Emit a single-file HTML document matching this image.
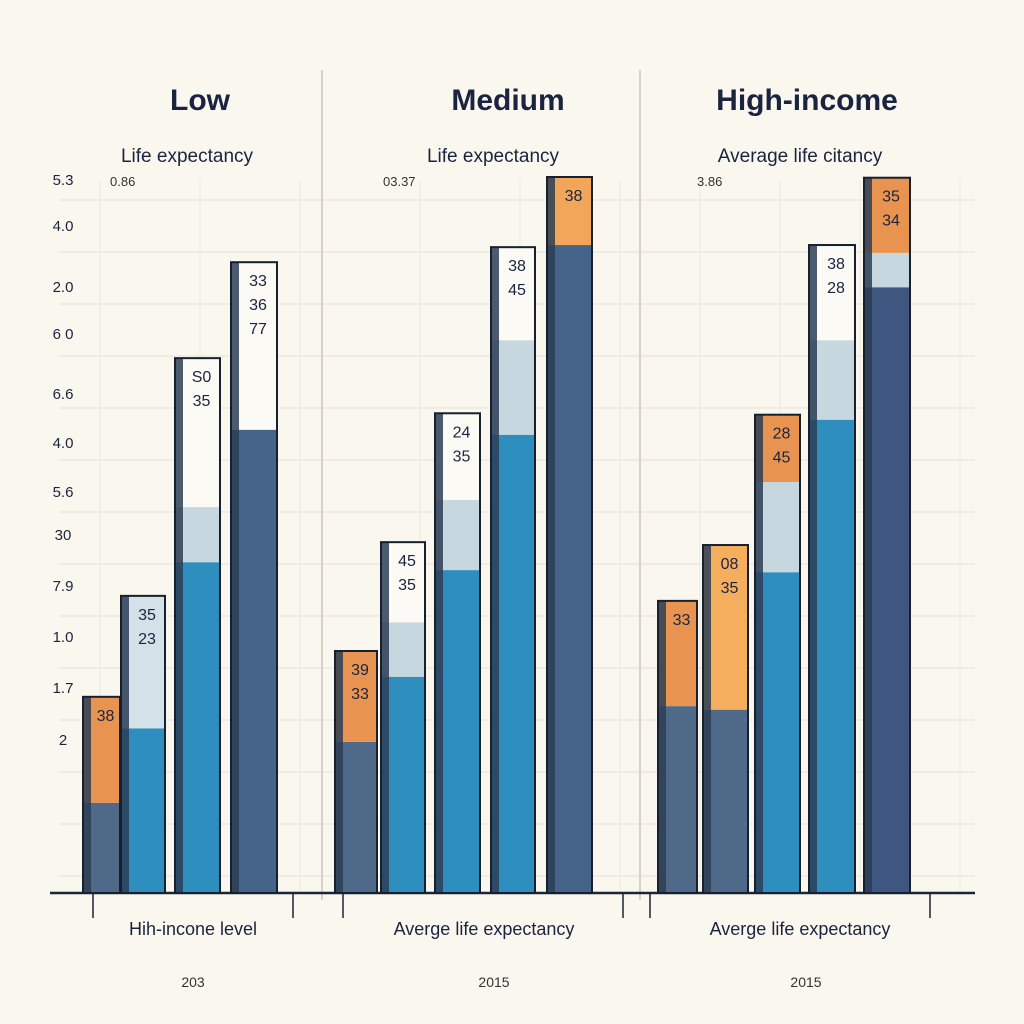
<!DOCTYPE html>
<html><head><meta charset="utf-8"><style>
html,body{margin:0;padding:0;background:#faf7ee;}
svg{display:block;font-family:"Liberation Sans",sans-serif;}
</style></head><body>
<svg id="chart" width="1024" height="1024" viewBox="0 0 1024 1024">
<rect width="1024" height="1024" fill="#faf7ee"/>
<g id="grid"></g>
<g id="bars"></g>
<g id="texts">
<text x="200" y="110" text-anchor="middle" font-size="30" font-weight="bold" fill="#1a2440">Low</text>
<text x="508" y="110" text-anchor="middle" font-size="30" font-weight="bold" fill="#1a2440">Medium</text>
<text x="807" y="110" text-anchor="middle" font-size="30" font-weight="bold" fill="#1a2440">High-income</text>
<text x="187" y="162" text-anchor="middle" font-size="19" fill="#1a2440">Life expectancy</text>
<text x="493" y="162" text-anchor="middle" font-size="19" fill="#1a2440">Life expectancy</text>
<text x="800" y="162" text-anchor="middle" font-size="19" fill="#1a2440">Average life citancy</text>
<text x="110" y="186" font-size="13" fill="#333">0.86</text>
<text x="383" y="186" font-size="13" fill="#333">03.37</text>
<text x="697" y="186" font-size="13" fill="#333">3.86</text>
<text x="193" y="935" text-anchor="middle" font-size="18" fill="#1a2440">Hih-incone level</text>
<text x="484" y="935" text-anchor="middle" font-size="18" fill="#1a2440">Averge life expectancy</text>
<text x="800" y="935" text-anchor="middle" font-size="18" fill="#1a2440">Averge life expectancy</text>
<text x="193" y="987" text-anchor="middle" font-size="14" fill="#333">203</text>
<text x="494" y="987" text-anchor="middle" font-size="14" fill="#333">2015</text>
<text x="806" y="987" text-anchor="middle" font-size="14" fill="#333">2015</text>
</g>
</svg>
<script>
const yTickLabels=["5.3","4.0","2.0","6 0","6.6","4.0","5.6","30","7.9","1.0","1.7","2"];
const yTickPos=[180,226,287,334,394,443,492,535,586,637,688,740];
const bottomVals=[12.6,23.0,46.2,64.7, 21.1,30.2,45.1,64.0,90.5, 26.1,25.6,44.8,66.1,84.6];
const midVals=[12.6,23.0,53.9,64.7, 21.1,37.8,54.9,77.2,90.5, 26.1,25.6,57.4,77.2,89.4];
const totalVals=[27.4,41.5,74.7,88.1, 33.8,49.0,67.0,90.2,100, 40.8,48.6,66.8,90.5,99.9];
const barLabels=[["38"],["35","23"],["S0","35"],["33","36","77"],["39","33"],["45","35"],["24","35"],["38","45"],["38"],["33"],["08","35"],["28","45"],["38","28"],["35","34"]];
const barX=[83,121,175,231, 335,381,435,491,547, 658,703,755,809,864];
const barW=[37,44,45,46, 42,44,45,44,45, 39,45,45,46,46];
const bottomColor=["#4f6a88","#2e8fbf","#2e8fbf","#46648a","#4f6a88","#2e8fbf","#2e8fbf","#2e8fbf","#46648a","#4f6a88","#4f6a88","#2e8fbf","#2e8fbf","#3e5680"];
const topColor=["#e89450","#d2e2e8","#fbfaf4","#fbfaf4","#e89450","#fbfaf4","#fbfaf4","#fbfaf4","#f2a65a","#e89450","#f4ae5e","#e89450","#fbfaf4","#e89450"];
const NS="http://www.w3.org/2000/svg";
const base=893, scale=7.16;
function y(v){return base-v*scale;}
function mk(tag,attrs,parent){const e=document.createElementNS(NS,tag);for(const k in attrs)e.setAttribute(k,attrs[k]);parent.appendChild(e);return e;}
const grid=document.getElementById('grid'), bars=document.getElementById('bars'), texts=document.getElementById('texts');
for(let gy=200;gy<890;gy+=52){const l=mk('line',{x1:60,x2:975,y1:gy,y2:gy,stroke:"#e6e2d8","stroke-width":1},grid);

}
[100,200,300,420,520,620,700,780,860,960].forEach(gx=>{const l=mk('line',{x1:gx,x2:gx,y1:180,y2:893,stroke:"#ece8de","stroke-width":1},grid);

});
[322,640].forEach(gx=>{const l=mk('line',{x1:gx,x2:gx,y1:70,y2:900,stroke:"#c9c5bb","stroke-width":1.5},grid);

});
const ax=mk('line',{x1:50,x2:975,y1:893,y2:893,stroke:"#1b2536","stroke-width":2.5},grid);


[[93,293],[343,623],[650,930]].forEach(([a,b])=>{const p=mk('path',{d:`M${a} 893 V918 M${b} 893 V918`,stroke:"#1b2536","stroke-width":1.5,fill:"none"},grid);

});
yTickLabels.forEach((t,i)=>{const e=mk('text',{x:63,y:yTickPos[i]+5,"text-anchor":"middle","font-size":15,fill:"#1a2440"},texts);e.textContent=t;

});
totalVals.forEach((tv,i)=>{
  const g=mk('g',{},bars);
  
  
  const x=barX[i], w=barW[i];
  const yb=y(bottomVals[i]), ym=y(midVals[i]), yt=y(tv);
  mk('rect',{x:x,y:yb,width:w,height:base-yb,fill:bottomColor[i]},g);
  if(ym<yb) mk('rect',{x:x,y:ym,width:w,height:yb-ym,fill:"#c6d7df"},g);
  mk('rect',{x:x,y:yt,width:w,height:ym-yt,fill:topColor[i]},g);
  mk('rect',{x:x,y:yt,width:8,height:base-yt,fill:"#2b3d55",opacity:0.85},g);
  mk('rect',{x:x,y:yt,width:w,height:base-yt,fill:"none",stroke:"#17202e","stroke-width":2},g);
  barLabels[i].forEach((t,j)=>{const e=mk('text',{x:x+w/2+4,y:yt+24+j*24,"text-anchor":"middle","font-size":16,fill:"#1a2440"},g);e.textContent=t;
    
    });
});
</script>
</body></html>
